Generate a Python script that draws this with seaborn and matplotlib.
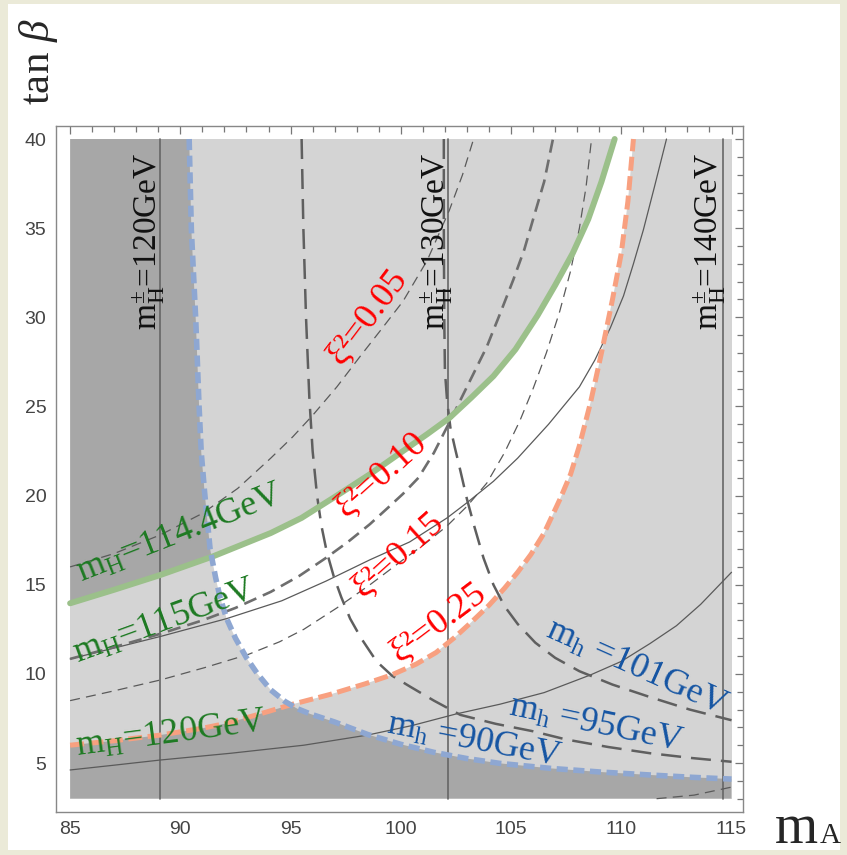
import matplotlib
matplotlib.use("Agg")
import matplotlib.pyplot as plt
import seaborn as sns
import numpy as np
from matplotlib.patches import Polygon, Rectangle
from matplotlib.ticker import MultipleLocator

# ---------------- data ----------------
mA_range = [85, 115]
tanb_range = [3, 40]

charged_labels = ["120", "130", "140"]
charged_mA = [89.08, 102.13, 114.6]

# m_H = 114.4 GeV (thick green)
green_mA = [85.0, 87.0, 89.1, 91.5, 94.1, 95.5, 97.1, 98.6, 100.1, 101.2, 102.2, 103.2, 104.2,
            105.2, 106.2, 107.0, 107.8, 108.5, 109.1, 109.7]
green_tb = [13.96, 14.72, 15.55, 16.6, 17.9, 18.75, 20.0, 21.2, 22.5, 23.45, 24.35, 25.5, 26.7,
            28.2, 30.1, 31.8, 33.6, 35.5, 37.6, 40.0]

# m_H = 115 GeV (thin solid)
mH115_mA = [85.0, 87.0, 89.1, 92.1, 94.6, 96.6, 98.6, 100.4, 102.1, 103.0, 104.2, 105.3, 106.7,
            108.1, 108.8, 109.5, 110.1, 110.55, 111.0, 111.5, 112.05]
mH115_tb = [10.84, 11.45, 12.1, 13.1, 14.1, 15.2, 16.4, 17.4, 18.75, 19.6, 20.8, 22.1, 24.0,
            26.1, 27.6, 29.4, 31.2, 33.0, 34.9, 37.3, 40.0]

# m_H = 120 GeV (thin solid)
mH120_mA = [85.0, 87.0, 89.1, 92.3, 95.6, 98.5, 100.5, 102.5, 104.5, 106.5, 108.6, 110.0, 111.3,
            112.5, 113.6, 114.3, 115.0]
mH120_tb = [4.61, 4.88, 5.17, 5.55, 6.0, 6.57, 7.1, 7.75, 8.3, 8.95, 9.94, 10.7, 11.7,
            12.7, 13.9, 14.8, 15.7]

# xi^2 contours
xi005_mA = [85.0, 87.0, 89.1, 91.0, 92.6, 94.1, 95.1, 96.0, 97.1, 98.15, 99.1, 100.1, 101.2,
            102.2, 102.8, 103.3]
xi005_tb = [16.0, 16.75, 17.8, 19.0, 20.4, 22.1, 23.3, 24.5, 26.1, 27.8, 29.3, 30.9, 33.2,
            36.0, 38.0, 40.0]

xi010_mA = [85.0, 87.0, 89.1, 91.0, 92.5, 94.1, 95.4, 96.6, 97.6, 98.6, 99.4, 100.1, 100.8,
            101.5, 102.2, 103.0, 103.9, 104.5, 105.1, 105.6, 106.0, 106.5, 106.9]
xi010_tb = [10.84, 11.5, 12.25, 13.0, 13.7, 14.6, 15.5, 16.5, 17.4, 18.4, 19.3, 20.1, 21.0,
            22.4, 24.1, 26.1, 28.35, 30.2, 32.1, 33.8, 35.5, 37.6, 40.0]

xi015_mA = [85.0, 87.0, 89.1, 91.1, 93.1, 94.5, 95.6, 97.1, 98.6, 100.1, 101.1, 102.1, 103.0,
            103.9, 104.7, 105.4, 106.0, 106.6, 107.2, 107.7, 108.1, 108.4, 108.65]
xi015_tb = [8.5, 9.05, 9.66, 10.35, 11.1, 11.8, 12.5, 13.7, 15.0, 16.4, 17.3, 18.3, 19.4,
            20.7, 22.4, 24.2, 26.0, 28.0, 30.3, 32.6, 35.0, 37.3, 40.0]

# xi^2 = 0.25 (thick salmon dashed)
red_mA = [85.0, 87.0, 89.1, 91.0, 92.1, 93.6, 95.1, 96.8, 98.4, 99.6, 100.7, 101.6, 102.4, 103.2,
          104.0, 104.7, 105.3, 105.9, 106.5, 107.2, 107.7, 108.1, 108.6, 109.1, 109.6, 110.0,
          110.3, 110.55]
red_tb = [6.0, 6.25, 6.57, 6.95, 7.23, 7.75, 8.3, 8.85, 9.45, 9.95, 10.55, 11.2, 12.0, 12.9,
          13.85, 14.8, 15.7, 16.7, 17.9, 19.75, 21.2, 22.8, 25.2, 28.0, 31.0, 33.6, 36.5, 40.0]

xi_low_mA = [111.6, 113.3, 115.0]
xi_low_tb = [3.0, 3.2, 3.65]

# m_h contours
blue_mA = [90.4, 90.5, 90.7, 90.85, 90.95, 91.1, 91.35, 91.6, 91.8, 92.1, 92.5, 93.0, 93.5, 94.1,
           94.75, 95.3, 95.9, 97.0, 98.5, 100.0, 101.5, 103.0, 104.5, 106.8, 109.0, 111.3,
           113.2, 115.0]
blue_tb = [40.0, 34.9, 29.85, 25.0, 22.4, 20.2, 17.0, 15.4, 14.3, 13.1, 12.0, 10.9, 10.0, 9.1,
           8.45, 8.05, 7.75, 7.3, 6.6, 6.05, 5.6, 5.25, 4.98, 4.7, 4.5, 4.33, 4.2, 4.1]

mh95_mA = [95.5, 95.58, 95.7, 95.85, 96.0, 96.2, 96.4, 96.64, 96.95, 97.3, 97.7, 98.2, 98.9,
           99.6, 100.4, 101.5, 102.7, 104.3, 106.0, 107.5, 109.4, 111.3, 113.2, 115.0]
mh95_tb = [40.0, 35.0, 30.0, 25.5, 22.5, 20.0, 18.3, 16.85, 15.5, 14.3, 13.1, 12.0, 10.7,
           9.9, 9.3, 8.5, 7.7, 7.2, 6.78, 6.32, 5.9, 5.55, 5.28, 5.07]

mh101_mA = [101.95, 101.95, 101.97, 102.0, 102.1, 102.25, 102.45, 102.7, 103.0, 103.35, 103.75,
            104.2, 104.7, 105.3, 106.1, 107.0, 108.1, 109.6, 111.3, 113.1, 115.0]
mh101_tb = [40.0, 35.0, 30.0, 27.0, 25.3, 23.8, 22.7, 21.4, 19.8, 18.2, 16.5,
            15.0, 13.8, 12.8, 11.75, 10.9, 10.15, 9.4, 8.7, 8.0, 7.4]

# ---------------- style ----------------
sns.set_style("white")
plt.rcParams["font.family"] = ["Liberation Serif", "DejaVu Serif"]
plt.rcParams["mathtext.fontset"] = "custom"
plt.rcParams["mathtext.rm"] = "Liberation Serif"
plt.rcParams["mathtext.it"] = "Liberation Serif:italic"
plt.rcParams["mathtext.bf"] = "Liberation Serif:bold"

LIGHT = "#d4d4d4"
DARK = "#a7a7a7"
GREEN_LINE = "#9bc08a"
RED_LINE = "#f8a080"
BLUE_LINE = "#8ea7d2"
GRAY_LINE = "#5a5a5a"
GREEN_TXT = "#1d7a22"
RED_TXT = "#ff0000"
BLUE_TXT = "#1555a3"

W, H = 847, 855
fig = plt.figure(figsize=(W / 100, H / 100), dpi=100)
fig.patch.set_facecolor("#ebead8")
fig.patches.append(Rectangle((8 / W, 1 - 850 / H), (840 - 8) / W, (850 - 4) / H,
                             transform=fig.transFigure, facecolor="white",
                             edgecolor="none", zorder=-10))

ax = fig.add_axes([56 / W, 1 - 811.7 / H, (743 - 56) / W, (811.7 - 126) / H])
ax.set_facecolor("white")
ax.set_xlim(84.36, 115.52)
ax.set_ylim(2.27, 40.73)

x0, x1 = mA_range
y0, y1 = tanb_range

# ---------------- shaded regions ----------------
ax.fill_between(mA_range, y0, y1, color=LIGHT, lw=0, zorder=0)

def pts(xs, ys):
    return np.column_stack([xs, ys])

green_p = pts(green_mA, green_tb)
red_p = pts(red_mA, red_tb)
blue_p = pts(blue_mA, blue_tb)

right_of_blue = np.vstack([blue_p, [[x1, y1]]])
left_of_blue = np.vstack([blue_p, [[x1, y0], [x0, y0], [x0, y1]]])
band = np.vstack([green_p, red_p[::-1]])
above_green = np.vstack([green_p, [[x0, y1]]])
below_red = np.vstack([red_p, [[x1, y1], [x1, y0], [x0, y0]]])

clip_r = Polygon(right_of_blue, closed=True, transform=ax.transData)
white = ax.fill(band[:, 0], band[:, 1], color="white", lw=0, zorder=1)[0]
white.set_clip_path(clip_r)

for reg in (above_green, below_red):
    clip_l = Polygon(left_of_blue, closed=True, transform=ax.transData)
    d = ax.fill(reg[:, 0], reg[:, 1], color=DARK, lw=0, zorder=1)[0]
    d.set_clip_path(clip_l)

# ---------------- lines ----------------
def curve(xs, ys, color, lw, ls="-", z=3):
    sns.lineplot(x=xs, y=ys, sort=False, estimator=None, color=color,
                 linewidth=lw, linestyle=ls, ax=ax, zorder=z, legend=False)

for m in charged_mA:
    curve([m, m], tanb_range, "#666666", 1.2, "-", 2)

curve(mH115_mA, mH115_tb, GRAY_LINE, 0.9, "-")
curve(mH120_mA, mH120_tb, GRAY_LINE, 0.9, "-")
curve(xi005_mA, xi005_tb, GRAY_LINE, 0.9, (0, (8, 5)))
curve(xi015_mA, xi015_tb, GRAY_LINE, 0.9, (0, (8, 5)))
curve(xi_low_mA, xi_low_tb, GRAY_LINE, 0.9, (0, (8, 5)))
curve(xi010_mA, xi010_tb, "#6e6e6e", 1.9, (0, (5, 2.7)))
curve(mh95_mA, mh95_tb, "#5f5f5f", 1.8, (0, (8, 4)))
curve(mh101_mA, mh101_tb, "#5f5f5f", 1.8, (0, (8, 4)))
curve(green_mA, green_tb, GREEN_LINE, 4.3, "-", 4)
curve(red_mA, red_tb, RED_LINE, 3.6, (0, (2.8, 1.1)), 4)
curve(blue_mA, blue_tb, BLUE_LINE, 4.0, (0, (2.0, 1.0)), 4)

# ---------------- labels ----------------
def lab(x, y, s, color, rot, size=26):
    ax.text(x, y, s, color=color, rotation=rot, rotation_mode="anchor",
            ha="center", va="center", fontsize=size, zorder=6)

for m, lbl, xt in zip(charged_mA, charged_labels, [88.54, 101.6, 114.0]):
    lab(xt, 34.25, r"m$_\mathregular{H}^{\pm}$=" + lbl + "GeV", "#111111", 90, 24)

lab(90.0, 17.8, r"m$_\mathregular{H}$=114.4GeV", GREEN_TXT, 21.5)
lab(89.3, 12.9, r"m$_\mathregular{H}$=115GeV", GREEN_TXT, 20)
lab(89.6, 6.6, r"m$_\mathregular{H}$=120GeV", GREEN_TXT, 7.5)

lab(98.5, 30.0, "ξ²=0.05", RED_TXT, 53)
lab(99.14, 21.16, "ξ²=0.10", RED_TXT, 42)
lab(99.9, 16.67, "ξ²=0.15", RED_TXT, 42)
lab(101.7, 12.85, "ξ²=0.25", RED_TXT, 37)

lab(103.3, 6.2, r"m$_\mathregular{h}$ =90GeV", BLUE_TXT, -11)
lab(108.85, 7.1, r"m$_\mathregular{h}$ =95GeV", BLUE_TXT, -12)
lab(110.67, 10.33, r"m$_\mathregular{h}$ =101GeV", BLUE_TXT, -24)

# ---------------- axes cosmetics ----------------
ax.xaxis.set_major_locator(MultipleLocator(5))
ax.xaxis.set_minor_locator(MultipleLocator(1))
ax.yaxis.set_major_locator(MultipleLocator(5))
ax.yaxis.set_minor_locator(MultipleLocator(1))
ax.tick_params(which="both", direction="in", top=True, right=True, color="#777777", width=0.9)
ax.tick_params(which="major", length=6, pad=7, labelsize=14, labelcolor="#444444")
ax.tick_params(which="minor", length=4)
for t in ax.get_xticklabels() + ax.get_yticklabels():
    t.set_fontfamily("Liberation Sans")
for s in ax.spines.values():
    s.set_color("#888888")
    s.set_linewidth(1.0)
ax.set_xlabel("")
ax.set_ylabel("")

fig.text(38 / W, 1 - 62 / H, r"tan $\beta$", rotation=90, ha="center", va="center", fontsize=31)
fig.text(775 / W, 1 - 843 / H, "m", ha="left", va="baseline", fontsize=40)
fig.text(820 / W, 1 - 843 / H, "A", ha="left", va="baseline", fontsize=21)

fig.savefig("out.png", dpi=100, facecolor=fig.get_facecolor())
